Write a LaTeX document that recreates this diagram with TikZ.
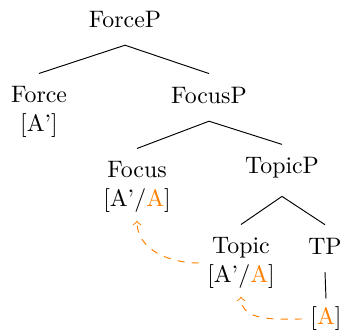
\documentclass[tikz,border=0pt]{standalone}

\begin{document}
\begin{tikzpicture}[x=0.42pt,y=-0.42pt,
    feat/.style={align=center},
    move/.style={->,dashed,orange}]
  \useasboundingbox (0,0) rectangle (344,332);

  \node (forcep) at (125,19) {ForceP};
  \node[feat] (force) at (39,112) {Force\\{[A']}};
  \node (focusp) at (209,95) {FocusP};
  \node[feat] (focus) at (137,187) {Focus\\{[A'/\textcolor{orange}{A}]}};
  \node (topicp) at (282,168) {TopicP};
  \node[feat] (topic) at (241,263) {Topic\\{[A'/\textcolor{orange}{A}]}};
  \node (tp) at (325,246) {TP};
  \node (a) at (326,319) {[\textcolor{orange}{A}]};

  \draw ([yshift=-4pt]forcep.south) -- ([yshift=2pt]force.north);
  \draw ([yshift=-4pt]forcep.south) -- ([yshift=2pt]focusp.north);
  \draw ([yshift=-4pt]focusp.south) -- ([yshift=2pt]focus.north);
  \draw ([yshift=-4pt]focusp.south) -- ([yshift=2pt]topicp.north);
  \draw ([yshift=-4pt]topicp.south) -- ([yshift=2pt]topic.north);
  \draw ([yshift=-4pt]topicp.south) -- ([yshift=2pt]tp.north);
  \draw ([yshift=-4pt]tp.south) -- (a.north);

  \draw[move] (topic.west) to[out=180,in=-90] (focus.south);
  \draw[move] (a.west) to[out=180,in=-90] (topic.south);
\end{tikzpicture}
\end{document}
